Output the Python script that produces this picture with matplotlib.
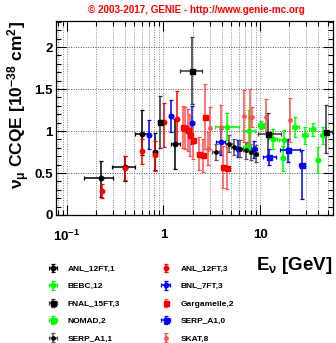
import matplotlib
matplotlib.use("Agg")
import matplotlib.pyplot as plt
import numpy as np
from matplotlib.ticker import FixedLocator, FuncFormatter, MultipleLocator, LogLocator

plt.rcParams["font.family"] = ["Liberation Sans", "DejaVu Sans"]
plt.rcParams["font.weight"] = "bold"
plt.rcParams["mathtext.fontset"] = "custom"
plt.rcParams["mathtext.rm"] = "Liberation Sans:bold"
plt.rcParams["mathtext.it"] = "Liberation Sans:bold"
plt.rcParams["mathtext.bf"] = "Liberation Sans:bold"

# ---- data (E [GeV], sigma [1e-38 cm^2]) ----
anl1_e = [0.226, 0.404, 0.596, 0.807, 1.33]
anl1_s = [0.437, 0.575, 0.97, 0.75, 0.845]
anl1_xlo = [0.077, 0.110, 0.087, 0.03, 0.13]
anl1_xhi = [0.072, 0.105, 0.104, 0.04, 0.17]
anl1_ylo = [0.22, 0.17, 0.26, 0.21, 0.30]
anl1_yhi = [0.21, 0.13, 0.28, 0.23, 0.30]

anl3_e = [0.229, 0.404, 0.596, 0.807, 1.02, 1.37]
anl3_s = [0.29, 0.565, 0.766, 0.714, 1.11, 1.14]
anl3_ylo = [0.09, 0.15, 0.16, 0.19, 0.30, 0.30]
anl3_yhi = [0.08, 0.14, 0.14, 0.17, 0.22, 0.34]

bebc_e = [4.6, 7.6, 13.6, 17.7, 17.3, 23.2, 29.5, 35.0, 39.7, 45.0]
bebc_s = [1.05, 1.0, 0.905, 0.89, 0.675, 1.05, 0.95, 1.02, 0.655, 0.95]
bebc_xlo = [1.2, 1.0, 1.5, 2.0, 1.0, 2.0, 2.0, 2.5, 1.5, 3.0]
bebc_xhi = [1.5, 1.3, 1.5, 2.0, 1.0, 2.0, 2.0, 2.5, 1.5, 3.0]
bebc_yerr = [0.16, 0.25, 0.12, 0.12, 0.15, 0.12, 0.10, 0.08, 0.15, 0.10]

bnl_e = [0.70, 1.2, 1.98, 3.97, 5.9, 8.7]
bnl_s = [0.95, 1.18, 1.10, 0.87, 0.79, 0.78]
bnl_xlo = [0.03, 0.05, 0.10, 0.5, 0.5, 0.6]
bnl_xhi = [0.03, 0.05, 0.10, 0.4, 0.5, 0.6]
bnl_ylo = [0.17, 0.19, 0.25, 0.15, 0.10, 0.10]
bnl_yhi = [0.18, 0.19, 0.20, 0.15, 0.10, 0.10]

fnal_e = [0.91, 1.98, 12.1, 48.5]
fnal_s = [1.11, 1.72, 0.97, 0.99]
fnal_xlo = [0.03, 0.49, 2.5, 3.0]
fnal_xhi = [0.10, 0.54, 4.5, 7.0]
fnal_ylo = [0.31, 0.40, 0.25, 0.25]
fnal_yhi = [0.31, 0.40, 0.25, 0.32]

garg_e = [1.58, 1.69, 1.78, 1.86, 2.0, 2.32, 2.55, 2.72, 4.18, 4.5]
garg_s = [1.05, 1.04, 1.01, 0.95, 0.89, 0.73, 0.71, 1.17, 0.575, 0.555]
garg_yerr = [0.25, 0.25, 0.25, 0.25, 0.22, 0.20, 0.20, 0.39, 0.25, 0.25]

nomad_e = [7.3, 10.3]
nomad_s = [0.81, 1.07]
nomad_xerr = [0.6, 0.7]
nomad_yerr = [0.05, 0.05]

serp0_e = [12.3, 19.5, 27.3]
serp0_s = [0.69, 0.77, 0.59]
serp0_xlo = [1.5, 3.5, 2.0]
serp0_xhi = [2.5, 6.5, 2.0]
serp0_ylo = [0.09, 0.14, 0.40]
serp0_yhi = [0.09, 0.14, 0.18]

serp1_e = [3.5, 4.8, 5.4, 6.2, 7.2, 8.1, 9.0]
serp1_s = [0.75, 0.85, 0.81, 0.79, 0.77, 0.75, 0.73]
serp1_xerr = [0.3, 0.4, 0.4, 0.4, 0.5, 0.5, 0.5]
serp1_yerr = [0.10, 0.10, 0.10, 0.10, 0.10, 0.10, 0.10]

skat_e = [2.87, 3.0, 3.9, 6.9, 7.8, 8.3, 11.6, 20.2]
skat_s = [0.79, 1.04, 1.05, 1.18, 1.17, 1.17, 1.17, 1.13]
skat_yerr = [0.20, 0.25, 0.26, 0.31, 0.33, 0.12, 0.21, 0.26]

RED = "#ff0000"
LRED = "#ff5050"
GREEN = "#00ff00"
BLUE = "#0000ff"

fig = plt.figure(figsize=(3.36, 3.43), dpi=100)
ax = fig.add_axes([56 / 336, 1 - 215 / 343, 277 / 336, 194 / 343])

series = [
    ("ANL_12FT,1", anl1_e, anl1_s, [anl1_xlo, anl1_xhi], [anl1_ylo, anl1_yhi], "black", "black", "o", 3.2),
    ("ANL_12FT,3", anl3_e, anl3_s, None, [anl3_ylo, anl3_yhi], RED, RED, "o", 3.2),
    ("BEBC,12", bebc_e, bebc_s, [bebc_xlo, bebc_xhi], bebc_yerr, GREEN, GREEN, "o", 3.2),
    ("BNL_7FT,3", bnl_e, bnl_s, [bnl_xlo, bnl_xhi], [bnl_ylo, bnl_yhi], BLUE, BLUE, "o", 3.2),
    ("FNAL_15FT,3", fnal_e, fnal_s, [fnal_xlo, fnal_xhi], [fnal_ylo, fnal_yhi], "black", "#333333", "s", 3.6),
    ("Gargamelle,2", garg_e, garg_s, None, garg_yerr, RED, LRED, "s", 3.6),
    ("NOMAD,2", nomad_e, nomad_s, nomad_xerr, nomad_yerr, GREEN, GREEN, "s", 3.6),
    ("SERP_A1,0", serp0_e, serp0_s, [serp0_xlo, serp0_xhi], [serp0_ylo, serp0_yhi], BLUE, BLUE, "s", 3.6),
    ("SERP_A1,1", serp1_e, serp1_s, serp1_xerr, serp1_yerr, "black", "#555555", "o", 2.4),
    ("SKAT,8", skat_e, skat_s, None, skat_yerr, LRED, LRED, "o", 2.4),
]

handles = {}
for label, e, s, xe, ye, mc, ec, mk, ms in series:
    h = ax.errorbar(
        e, s, xerr=xe, yerr=ye, fmt=mk, color=mc, ecolor=ec, mec=mc, mfc=mc,
        ms=ms, elinewidth=1.1, capsize=1.5, capthick=0.9, label=label, zorder=3,
    )
    handles[label] = h

ax.set_xscale("log")
ax.set_xlim(0.077, 57)
ax.set_ylim(0, 2.31)

ax.xaxis.set_major_locator(FixedLocator([0.1, 1, 10]))
ax.xaxis.set_minor_locator(LogLocator(base=10, subs=np.arange(2, 10)))
xlabels = {0.1: r"$10^{-1}$", 1: "1", 10: "10"}
ax.xaxis.set_major_formatter(FuncFormatter(lambda v, p: xlabels.get(round(v, 3), "")))
ax.xaxis.set_minor_formatter(FuncFormatter(lambda v, p: ""))
ax.yaxis.set_major_locator(MultipleLocator(0.5))
ax.yaxis.set_minor_locator(MultipleLocator(0.1))
ax.yaxis.set_major_formatter(FuncFormatter(lambda v, p: f"{v:g}"))

ax.tick_params(which="both", direction="in", top=True, right=True, labelsize=9.5)
ax.tick_params(which="major", length=7, width=0.8)
ax.tick_params(which="minor", length=3.5, width=0.8)
ax.tick_params(axis="x", which="major", pad=10)
ax.tick_params(axis="y", which="major", pad=2.5)
ax.grid(True, which="both", axis="x", linestyle=(0, (1, 1.5)), color="#888888", linewidth=0.7)
ax.grid(True, which="major", axis="y", linestyle=(0, (1, 1.5)), color="#555555", linewidth=0.7)
ax.set_axisbelow(True)
for sp in ax.spines.values():
    sp.set_linewidth(0.9)

ax.text(-0.135, 1.0, r"$\nu_{\mu}$ CCQE [10$^{-38}$ cm$^{2}$]", transform=ax.transAxes,
        rotation=90, ha="center", va="top", fontsize=12.5, fontweight="bold")
fig.text(333 / 336, 1 - 265 / 343, r"E$_{\nu}$ [GeV]", ha="right", va="center",
         fontsize=13.5, fontweight="bold")
fig.text(196 / 336, 1 - 10 / 343, "\u00a9 2003-2017, GENIE - http://www.genie-mc.org",
         ha="center", va="center", fontsize=7.1, fontweight="bold", color=RED)

order = ["ANL_12FT,1", "BEBC,12", "FNAL_15FT,3", "NOMAD,2", "SERP_A1,1",
         "ANL_12FT,3", "BNL_7FT,3", "Gargamelle,2", "SERP_A1,0", "SKAT,8"]
fig.legend([handles[k] for k in order], order, ncol=2, loc="upper left",
           bbox_to_anchor=(42 / 336, 1 - 265 / 343), frameon=False,
           fontsize=6, handlelength=2.6, handletextpad=0.5, columnspacing=4.15,
           labelspacing=1.15, borderpad=0, borderaxespad=0)

fig.savefig("out.png", dpi=100)
